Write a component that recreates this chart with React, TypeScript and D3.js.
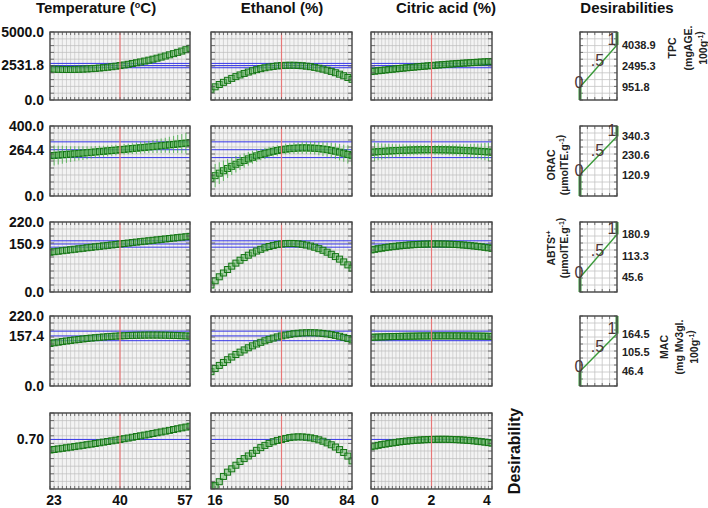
import * as d3 from "d3";

// ── Factors (columns) ─────────────────────────────────────────────────────────

const xDomains: [number, number][] = [[23, 57], [16, 84], [0, 4]];
const xCurrent = [40, 50, 2];
const xTickValues = [[23, 40, 57], [16, 50, 84], [0, 2, 4]];
const GRID_POINTS = 35;

// ── Responses (rows) ──────────────────────────────────────────────────────────

const yMax = [5000, 400, 220, 220];
const yCurrent = [2531.8, 264.4, 150.9, 157.4];
const ciHalf = [160, 45, 10, 15];
const dLow = [951.8, 120.9, 45.6, 46.4];
const dMid = [2495.3, 230.6, 113.3, 105.5];
const dHigh = [4038.9, 340.3, 180.9, 164.5];

const desirDomain: [number, number] = [-0.05, 1.1];
const desirCurrent = 0.7;

// ── Profiles: one value per grid point ────────────────────────────────────────

const tpcTemp = [2280, 2267, 2257, 2250, 2247, 2248, 2252, 2260, 2271, 2285, 2304, 2325, 2351, 2379, 2412, 2448, 2487, 2532, 2576, 2627, 2680, 2737, 2798, 2862, 2929, 3001, 3075, 3154, 3235, 3321, 3409, 3502, 3598, 3697, 3800];
const tpcEthanol = [790, 969, 1138, 1298, 1448, 1588, 1719, 1841, 1953, 2055, 2148, 2232, 2305, 2370, 2425, 2470, 2506, 2532, 2549, 2556, 2553, 2542, 2520, 2489, 2449, 2399, 2339, 2270, 2192, 2103, 2006, 1899, 1782, 1656, 1520];
const tpcCitric = [2092, 2122, 2151, 2180, 2208, 2236, 2263, 2290, 2316, 2342, 2368, 2393, 2417, 2441, 2464, 2487, 2510, 2532, 2554, 2575, 2595, 2615, 2635, 2654, 2673, 2691, 2709, 2726, 2743, 2759, 2775, 2790, 2805, 2819, 2833];

const oracTemp = [229.9, 231.8, 233.7, 235.6, 237.5, 239.4, 241.4, 243.4, 245.4, 247.4, 249.5, 251.6, 253.7, 255.8, 257.9, 260.0, 262.2, 264.4, 266.6, 268.8, 271.1, 273.4, 275.7, 278.0, 280.3, 282.6, 285.0, 287.4, 289.8, 292.2, 294.7, 297.2, 299.7, 302.2, 304.7];
const oracEthanol = [101.2, 116.2, 130.5, 144.3, 157.3, 169.7, 181.3, 192.3, 202.6, 212.2, 221.1, 229.4, 236.8, 243.7, 249.9, 255.4, 260.3, 264.4, 267.9, 270.6, 272.7, 274.1, 274.8, 274.8, 274.1, 272.8, 270.8, 268.1, 264.7, 260.7, 255.9, 250.5, 244.3, 237.4, 230.0];
const oracCitric = [250.0, 251.7, 253.2, 254.6, 256.0, 257.2, 258.4, 259.4, 260.4, 261.2, 262.0, 262.6, 263.2, 263.6, 264.0, 264.2, 264.4, 264.4, 264.4, 264.2, 264.0, 263.6, 263.2, 262.6, 262.0, 261.2, 260.4, 259.4, 258.4, 257.2, 256.0, 254.6, 253.2, 251.7, 250.0];

const oracTempErr = [60, 57, 54, 51, 48, 45, 43, 41, 39, 37, 35, 34, 33, 32, 31, 30, 30, 30, 30, 30, 31, 32, 33, 34, 35, 37, 39, 41, 43, 46, 49, 52, 55, 59, 63];
const oracEthanolErr = [70, 66, 62, 58, 54, 50, 47, 44, 41, 39, 37, 35, 33, 32, 31, 30, 30, 30, 30, 30, 31, 32, 33, 34, 35, 36, 38, 39, 41, 43, 45, 47, 49, 52, 55];
const oracCitricErr = [55, 52, 49, 46, 43, 41, 39, 37, 35, 34, 32, 31, 30, 29, 29, 28, 28, 28, 28, 28, 29, 29, 30, 31, 32, 34, 35, 37, 39, 41, 43, 46, 49, 52, 55];

const abtsTemp = [125.0, 126.6, 128.2, 129.7, 131.3, 132.8, 134.4, 135.9, 137.4, 139.0, 140.5, 142.0, 143.5, 145.0, 146.5, 147.9, 149.4, 150.9, 152.4, 153.8, 155.3, 156.8, 158.2, 159.7, 161.1, 162.5, 163.9, 165.3, 166.7, 168.1, 169.5, 170.9, 172.3, 173.6, 175.0];
const abtsEthanol = [22.0, 35.2, 47.8, 59.7, 70.7, 81.2, 90.8, 99.9, 108.2, 115.7, 122.6, 128.7, 134.2, 139.0, 143.0, 146.4, 148.9, 150.9, 152.1, 152.6, 152.4, 151.4, 149.8, 147.5, 144.4, 140.7, 136.2, 131.1, 125.2, 118.6, 111.3, 103.3, 94.6, 85.2, 75.0];
const abtsCitric = [132.2, 134.2, 136.1, 137.8, 139.5, 141.1, 142.5, 143.8, 145.0, 146.1, 147.1, 148.0, 148.8, 149.4, 150.0, 150.4, 150.7, 150.9, 151.0, 151.0, 150.8, 150.6, 150.2, 149.8, 149.2, 148.5, 147.7, 146.8, 145.7, 144.6, 143.3, 142.0, 140.5, 138.9, 137.2];

const macTemp = [133.7, 135.8, 137.8, 139.6, 141.5, 143.2, 144.9, 146.4, 147.9, 149.3, 150.6, 151.8, 152.9, 154.0, 155.0, 155.9, 156.7, 157.4, 158.0, 158.6, 159.1, 159.4, 159.7, 159.9, 160.1, 160.1, 160.1, 159.9, 159.7, 159.4, 159.1, 158.6, 158.0, 157.4, 156.7];
const macEthanol = [45.0, 55.1, 64.7, 73.9, 82.7, 91.0, 99.0, 106.4, 113.4, 120.1, 126.2, 132.0, 137.3, 142.1, 146.7, 150.6, 154.3, 157.4, 160.1, 162.4, 164.3, 165.7, 166.7, 167.2, 167.4, 167.1, 166.4, 165.2, 163.6, 161.6, 159.1, 156.3, 152.9, 149.1, 145.0];
const macCitric = [153.0, 153.5, 153.9, 154.2, 154.6, 155.0, 155.3, 155.6, 155.8, 156.1, 156.3, 156.5, 156.7, 156.9, 157.1, 157.2, 157.3, 157.4, 157.5, 157.5, 157.6, 157.6, 157.6, 157.6, 157.5, 157.5, 157.4, 157.3, 157.1, 157.0, 156.8, 156.7, 156.5, 156.2, 156.0];

const desTemp = [0.540, 0.548, 0.557, 0.566, 0.574, 0.583, 0.592, 0.601, 0.611, 0.620, 0.629, 0.639, 0.649, 0.659, 0.669, 0.679, 0.689, 0.700, 0.711, 0.721, 0.733, 0.744, 0.755, 0.766, 0.778, 0.790, 0.801, 0.813, 0.825, 0.837, 0.850, 0.862, 0.875, 0.887, 0.900];
const desEthanol = [0, 0, 0.06, 0.14, 0.205, 0.255, 0.31, 0.366, 0.41, 0.45, 0.49, 0.535, 0.576, 0.61, 0.64, 0.665, 0.685, 0.70, 0.715, 0.728, 0.736, 0.739, 0.738, 0.733, 0.724, 0.711, 0.694, 0.673, 0.648, 0.619, 0.585, 0.546, 0.502, 0.448, 0.375];
const desCitric = [0.590, 0.601, 0.611, 0.622, 0.630, 0.640, 0.647, 0.655, 0.663, 0.669, 0.675, 0.680, 0.685, 0.689, 0.692, 0.696, 0.698, 0.700, 0.701, 0.702, 0.702, 0.702, 0.701, 0.699, 0.697, 0.694, 0.691, 0.687, 0.683, 0.678, 0.672, 0.666, 0.659, 0.652, 0.644];

const profiles = [
  [tpcTemp, tpcEthanol, tpcCitric],
  [oracTemp, oracEthanol, oracCitric],
  [abtsTemp, abtsEthanol, abtsCitric],
  [macTemp, macEthanol, macCitric],
  [desTemp, desEthanol, desCitric],
];
const errorBars: (number[][] | null)[] = [null, [oracTempErr, oracEthanolErr, oracCitricErr], null, null, null];

// ── Layout / style ────────────────────────────────────────────────────────────

const FONT = "'Liberation Sans', Arial, sans-serif";
const COL_X = [50, 211, 371];
const COL_W = [140, 141, 121];
const ROW_Y = [32, 126, 222, 316, 413];
const ROW_H = [68, 70, 70, 70, 76];
const MINI_X = 580;
const MINI_W = 37;

const BLUE = "#3535e8";
const RED = "#e77878";
const MARK_STROKE = "#147514";
const MARK_FILL = "rgba(110,185,110,0.55)";
const ERR_GREEN = "rgba(70,175,70,0.75)";
const FRAME = "#4a4a4a";

interface PanelProps {
  id: string;
  x: number;
  y: number;
  w: number;
  h: number;
  xDomain: [number, number];
  yDomain: [number, number];
  xCur: number;
  values: number[];
  errs?: number[] | null;
  hLines: number[];
}

function ProfilePanel({ id, x, y, w, h, xDomain, yDomain, xCur, values, errs, hLines }: PanelProps) {
  const xs = d3.scaleLinear().domain(xDomain).range([x, x + w]);
  const ys = d3.scaleLinear().domain(yDomain).range([y + h, y]);
  const step = (xDomain[1] - xDomain[0]) / (GRID_POINTS - 1);
  const gx = d3.range(GRID_POINTS).map((i) => xDomain[0] + i * step);
  const gy = d3.range(11).map((i) => yDomain[0] + (i * (yDomain[1] - yDomain[0])) / 10);
  const S = 6;

  return (
    <g>
      <clipPath id={id}>
        <rect x={x} y={y} width={w} height={h} />
      </clipPath>
      <rect x={x} y={y} width={w} height={h} fill="#f3f3f3" />
      {gx.map((v, i) => (
        <line key={"v" + i} x1={xs(v)} x2={xs(v)} y1={y} y2={y + h} stroke="#c6c6c6" strokeWidth={0.7} />
      ))}
      {gy.map((v, i) => (
        <line key={"h" + i} x1={x} x2={x + w} y1={ys(v)} y2={ys(v)} stroke="#bcbcbc" strokeWidth={0.7} />
      ))}
      <g clipPath={`url(#${id})`}>
        {hLines.map((v, i) => (
          <line key={"b" + i} x1={x} x2={x + w} y1={ys(v)} y2={ys(v)} stroke={BLUE} strokeWidth={1} />
        ))}
        {values.map((v, i) => (
          <rect key={"m" + i} x={xs(gx[i]) - S / 2} y={ys(v) - S / 2} width={S} height={S} fill={MARK_FILL} stroke={MARK_STROKE} strokeWidth={1} />
        ))}
        {errs &&
          values.map((v, i) => (
            <line key={"e" + i} x1={xs(gx[i])} x2={xs(gx[i])} y1={ys(v - errs[i])} y2={ys(v + errs[i])} stroke={ERR_GREEN} strokeWidth={1.1} />
          ))}
        <line x1={xs(xCur)} x2={xs(xCur)} y1={y} y2={y + h} stroke={RED} strokeWidth={1.2} />
      </g>
      {/* ticks */}
      {gx.map((v, i) => (
        <g key={"t" + i} stroke="#555" strokeWidth={0.8}>
          <line x1={xs(v)} x2={xs(v)} y1={y} y2={y + 3} />
          <line x1={xs(v)} x2={xs(v)} y1={y + h} y2={y + h - 3} />
        </g>
      ))}
      {gy.map((v, i) => (
        <g key={"s" + i} stroke="#555" strokeWidth={0.8}>
          <line x1={x} x2={x + 4} y1={ys(v)} y2={ys(v)} />
          <line x1={x + w} x2={x + w - 4} y1={ys(v)} y2={ys(v)} />
        </g>
      ))}
      <rect x={x} y={y} width={w} height={h} fill="none" stroke={FRAME} strokeWidth={1.4} />
    </g>
  );
}

interface DesirProps {
  y: number;
  h: number;
  max: number;
  low: number;
  mid: number;
  high: number;
}

function DesirabilityPanel({ y, h, max, low, mid, high }: DesirProps) {
  const x = MINI_X;
  const w = MINI_W;
  const xs = d3.scaleLinear().domain([0, 1]).range([x, x + w]);
  const ys = d3.scaleLinear().domain([0, max]).range([y + h, y]);
  const gx = d3.range(6).map((i) => i / 5);
  const gy = d3.range(11).map((i) => (i * max) / 10);
  const line = d3
    .line<[number, number]>()
    .x((d) => xs(d[0]))
    .y((d) => ys(d[1]));
  const fmt = d3.format(".1f");

  return (
    <g>
      <rect x={x} y={y} width={w} height={h} fill="#ffffff" />
      {gx.map((v, i) => (
        <line key={"v" + i} x1={xs(v)} x2={xs(v)} y1={y} y2={y + h} stroke="#c4c4c4" strokeWidth={0.8} />
      ))}
      {gy.map((v, i) => (
        <line key={"h" + i} x1={x} x2={x + w} y1={ys(v)} y2={ys(v)} stroke="#c4c4c4" strokeWidth={0.8} />
      ))}
      {gx.map((v, i) => (
        <g key={"t" + i} stroke="#555" strokeWidth={0.8}>
          <line x1={xs(v)} x2={xs(v)} y1={y} y2={y + 3} />
          <line x1={xs(v)} x2={xs(v)} y1={y + h} y2={y + h - 3} />
        </g>
      ))}
      {gy.map((v, i) => (
        <g key={"s" + i} stroke="#555" strokeWidth={0.8}>
          <line x1={x} x2={x + 3} y1={ys(v)} y2={ys(v)} />
          <line x1={x + w} x2={x + w - 3} y1={ys(v)} y2={ys(v)} />
        </g>
      ))}
      <path d={line([[0, 0], [0, low]]) ?? ""} stroke="#3a9a3a" strokeWidth={3} fill="none" />
      <path d={line([[0, low], [1, high]]) ?? ""} stroke="#3a9a3a" strokeWidth={1.4} fill="none" />
      <path d={line([[1, high], [1, max]]) ?? ""} stroke="#3a9a3a" strokeWidth={3} fill="none" />
      <rect x={x} y={y} width={w} height={h} fill="none" stroke={FRAME} strokeWidth={1.4} />
      <g fill="#4d3434" fontSize={16} textAnchor="middle">
        <text x={xs(0) - 1} y={ys(low) + 1}>0</text>
        <text x={xs(0.5) - 1} y={ys(mid)}>.5</text>
        <text x={xs(1) - 5} y={ys(high)}>1</text>
      </g>
      <g fontSize={11} fontWeight="bold" fill="#222">
        {[high, mid, low].map((v) => (
          <text key={v} x={x + w + 5} y={ys(v)} dy="0.35em">
            {fmt(v)}
          </text>
        ))}
      </g>
    </g>
  );
}

function Sup({ children }: { children: string }) {
  return (
    <>
      <tspan fontSize={7} dy={-4}>
        {children}
      </tspan>
      <tspan dy={4} />
    </>
  );
}

function RotLines({ xs, cy, lines }: { xs: number[]; cy: number; lines: React.ReactNode[] }) {
  return (
    <g fontSize={10.5} fontWeight="bold" fill="#222" textAnchor="middle">
      {lines.map((l, i) => (
        <text key={i} transform={`translate(${xs[i]},${cy}) rotate(-90)`}>
          {l}
        </text>
      ))}
    </g>
  );
}

export default function App() {
  const W = 708;
  const H = 508;

  return (
    <svg
      width={W}
      height={H}
      style={{ position: "absolute", left: 0, top: 0, background: "#fff" }}
      fontFamily={FONT}
    >
      {/* column titles */}
      <g fontSize={15} fontWeight="bold" fill="#111" textAnchor="middle">
        <text x={96} y={13}>
          Temperature (<tspan fontSize={9} dy={-5}>o</tspan>
          <tspan dy={5}>C)</tspan>
        </text>
        <text x={282} y={13}>Ethanol (%)</text>
        <text x={446} y={13}>Citric acid (%)</text>
        <text x={627} y={13}>Desirabilities</text>
      </g>

      {profiles.map((row, r) => {
        const isDes = r === 4;
        const yDomain: [number, number] = isDes ? desirDomain : [0, yMax[r]];
        const hLines = isDes ? [desirCurrent] : [yCurrent[r] - ciHalf[r], yCurrent[r], yCurrent[r] + ciHalf[r]];
        const ys = d3.scaleLinear().domain(yDomain).range([ROW_Y[r] + ROW_H[r], ROW_Y[r]]);
        const labels = isDes
          ? [{ v: desirCurrent, t: d3.format(".2f")(desirCurrent) }]
          : [
              { v: yMax[r], t: d3.format(".1f")(yMax[r]) },
              { v: yCurrent[r], t: d3.format(".1f")(yCurrent[r]) },
              { v: 0, t: "0.0" },
            ];
        return (
          <g key={r}>
            {row.map((vals, c) => (
              <ProfilePanel
                key={c}
                id={`clip-${r}-${c}`}
                x={COL_X[c]}
                y={ROW_Y[r]}
                w={COL_W[c]}
                h={ROW_H[r]}
                xDomain={xDomains[c]}
                yDomain={yDomain}
                xCur={xCurrent[c]}
                values={vals}
                errs={errorBars[r] ? errorBars[r]![c] : null}
                hLines={hLines}
              />
            ))}
            <g fontSize={14} fontWeight="bold" fill="#111" textAnchor="end">
              {labels.map((l) => (
                <text key={l.t} x={44} y={ys(l.v)} dy="0.35em">
                  {l.t}
                </text>
              ))}
            </g>
            {!isDes && (
              <DesirabilityPanel
                y={ROW_Y[r]}
                h={ROW_H[r]}
                max={yMax[r]}
                low={dLow[r]}
                mid={dMid[r]}
                high={dHigh[r]}
              />
            )}
          </g>
        );
      })}

      {/* x tick labels on the bottom row */}
      <g fontSize={14} fontWeight="bold" fill="#111" textAnchor="middle">
        {xTickValues.map((ticks, c) => {
          const xs = d3.scaleLinear().domain(xDomains[c]).range([COL_X[c], COL_X[c] + COL_W[c]]);
          return ticks.map((t, i) => (
            <text key={`${c}-${t}`} x={xs(t) + (i === 0 ? 4 : i === ticks.length - 1 ? -5 : 0)} y={505}>
              {t}
            </text>
          ));
        })}
      </g>

      {/* row titles */}
      <RotLines
        xs={[676, 691.5, 707]}
        cy={48}
        lines={[
          "TPC",
          "(mgAGE.",
          <>
            100g<Sup>-1</Sup>)
          </>,
        ]}
      />
      <RotLines
        xs={[555, 567.5]}
        cy={165}
        lines={[
          "ORAC",
          <>
            (µmolTE.g<Sup>-1</Sup>)
          </>,
        ]}
      />
      <RotLines
        xs={[555, 567.5]}
        cy={248}
        lines={[
          <>
            ABTS<Sup>•+</Sup>
          </>,
          <>
            (µmolTE.g<Sup>-1</Sup>)
          </>,
        ]}
      />
      <RotLines
        xs={[668, 683, 698]}
        cy={347}
        lines={[
          "MAC",
          "(mg Mv3gl.",
          <>
            100g<Sup>-1</Sup>)
          </>,
        ]}
      />
      <text
        transform="translate(520,451) rotate(-90)"
        textAnchor="middle"
        fontSize={16}
        fontWeight="bold"
        fill="#111"
      >
        Desirability
      </text>
    </svg>
  );
}
